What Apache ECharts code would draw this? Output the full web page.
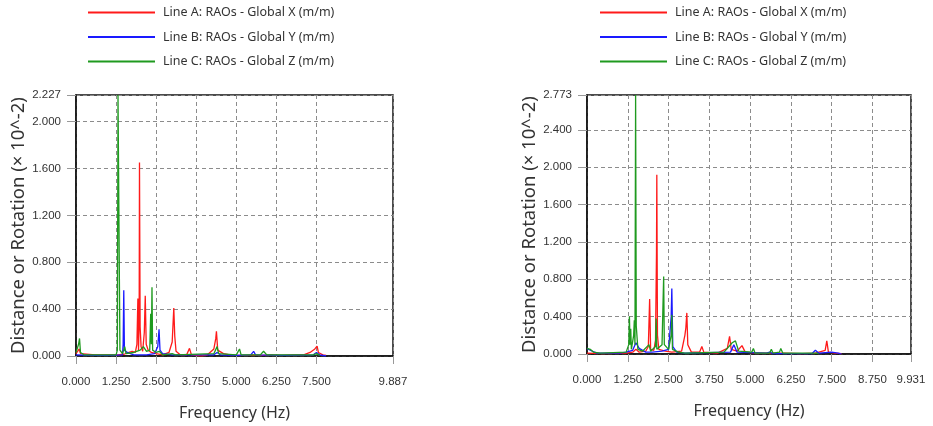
<!DOCTYPE html>
<html>
<head>
<meta charset="utf-8">
<script src="https://cdn.jsdelivr.net/npm/echarts@6/dist/echarts.min.js"></script>
<style>
html,body{margin:0;padding:0;background:#fff;}
#chart{width:933px;height:426px;}
</style>
</head>
<body>
<div id="chart"></div>
<script>
// ---- data ----
const seriesNames = ['Line A: RAOs - Global X (m/m)', 'Line B: RAOs - Global Y (m/m)', 'Line C: RAOs - Global Z (m/m)'];
const leftXTicks = [0, 1.25, 2.5, 3.75, 5, 6.25, 7.5, 9.887];
const rightXTicks = [0, 1.25, 2.5, 3.75, 5, 6.25, 7.5, 8.75, 9.931];
const leftYMax = 2.227;
const rightYMax = 2.773;
const leftXMax = 9.887;
const rightXMax = 9.931;

const leftA = [[0,0.02],[0.05,0.04],[0.1,0.06],[0.14,0.02],[0.2,0.01],[0.6,0.01],[1.0,0.01],[1.3,0.01],[1.5,0.015],[1.65,0.03],[1.75,0.04],[1.85,0.03],[1.9,0.1],[1.93,0.49],[1.95,0.05],[1.97,0.3],[1.98,1.65],[2.0,0.25],[2.03,0.08],[2.08,0.04],[2.13,0.2],[2.16,0.515],[2.19,0.1],[2.25,0.05],[2.35,0.03],[2.5,0.02],[2.7,0.01],[2.9,0.03],[3.0,0.12],[3.05,0.41],[3.08,0.17],[3.12,0.04],[3.25,0.01],[3.45,0.01],[3.54,0.065],[3.6,0.01],[3.9,0.0],[4.1,0.01],[4.3,0.06],[4.36,0.15],[4.38,0.21],[4.42,0.05],[4.6,0.02],[4.8,0.01],[5.0,0.005],[5.3,0.005],[5.5,0.01],[5.8,0.005],[6.1,0.01],[6.4,0.005],[6.8,0.01],[7.1,0.01],[7.3,0.03],[7.45,0.06],[7.52,0.085],[7.56,0.03],[7.7,0.01],[7.8,0.005]];
const leftB = [[0,0.01],[0.5,0.005],[1.0,0.005],[1.45,0.01],[1.47,0.1],[1.49,0.56],[1.51,0.05],[1.6,0.03],[1.8,0.01],[2.2,0.01],[2.45,0.02],[2.55,0.08],[2.59,0.228],[2.62,0.05],[2.7,0.02],[3.0,0.01],[4.3,0.01],[4.4,0.03],[4.5,0.01],[5.0,0.005],[5.45,0.01],[5.54,0.04],[5.6,0.01],[6.5,0.005],[7.4,0.01],[7.5,0.03],[7.6,0.01],[7.8,0.0]];
const leftC = [[0,0.03],[0.08,0.1],[0.11,0.15],[0.14,0.03],[0.25,0.01],[1.25,0.01],[1.29,0.05],[1.31,2.227],[1.35,2.227],[1.37,0.05],[1.45,0.02],[1.52,0.08],[1.56,0.02],[1.8,0.03],[2.0,0.05],[2.1,0.08],[2.2,0.04],[2.3,0.05],[2.33,0.36],[2.35,0.1],[2.37,0.586],[2.39,0.05],[2.5,0.03],[2.6,0.04],[2.7,0.01],[3.0,0.02],[3.1,0.01],[4.3,0.02],[4.4,0.08],[4.45,0.02],[5.0,0.01],[5.1,0.06],[5.15,0.01],[5.75,0.01],[5.85,0.04],[5.95,0.01],[7.4,0.01],[7.5,0.02],[7.6,0.005]];

const rightA = [[0,0.01],[0.5,0.005],[1.2,0.01],[1.4,0.02],[1.5,0.05],[1.6,0.02],[1.8,0.03],[1.88,0.08],[1.92,0.59],[1.95,0.05],[2.05,0.04],[2.1,0.15],[2.13,1.08],[2.14,1.92],[2.16,0.2],[2.2,0.05],[2.4,0.03],[2.6,0.02],[2.9,0.03],[3.0,0.2],[3.03,0.28],[3.06,0.44],[3.09,0.1],[3.2,0.02],[3.45,0.02],[3.52,0.08],[3.58,0.02],[4.0,0.01],[4.3,0.06],[4.37,0.19],[4.42,0.05],[4.6,0.03],[4.75,0.09],[4.85,0.02],[5.2,0.01],[6.0,0.01],[6.6,0.005],[7.0,0.01],[7.3,0.04],[7.35,0.14],[7.4,0.02],[7.6,0.01],[7.8,0.005]];
const rightB = [[0,0.06],[0.1,0.04],[0.3,0.01],[1.0,0.01],[1.2,0.02],[1.4,0.04],[1.5,0.12],[1.6,0.06],[1.8,0.02],[2.0,0.02],[2.3,0.03],[2.5,0.05],[2.58,0.4],[2.6,0.70],[2.63,0.08],[2.75,0.02],[3.0,0.01],[4.4,0.02],[4.5,0.1],[4.6,0.02],[5.5,0.01],[5.6,0.02],[5.7,0.005],[6.9,0.005],[7.0,0.04],[7.1,0.01],[7.5,0.02],[7.7,0.01],[7.8,0.0]];
const rightC = [[0,0.06],[0.1,0.05],[0.2,0.02],[0.4,0.01],[1.2,0.02],[1.28,0.1],[1.3,0.40],[1.32,0.1],[1.34,0.27],[1.36,0.05],[1.43,0.2],[1.45,0.36],[1.47,0.1],[1.49,2.773],[1.51,0.3],[1.53,0.30],[1.56,0.05],[1.7,0.03],[1.9,0.1],[1.95,0.03],[2.1,0.08],[2.12,0.38],[2.14,0.05],[2.3,0.1],[2.35,0.83],[2.37,0.1],[2.5,0.05],[2.58,0.2],[2.6,0.42],[2.62,0.05],[2.8,0.02],[3.0,0.01],[4.2,0.02],[4.45,0.12],[4.55,0.14],[4.65,0.03],[5.05,0.02],[5.1,0.06],[5.15,0.01],[5.6,0.01],[5.65,0.05],[5.7,0.01],[5.9,0.02],[5.94,0.06],[6.0,0.01],[7.0,0.01],[7.1,0.005]];

const colors = ['#ff1a1a', '#1a1aff', '#1f9a1f'];
// ---- chart ----
const FONT = 'Noto Sans';
const chart = echarts.init(document.getElementById('chart'));

function xAxisCfg(gridIndex, max, ticks) {
  return {
    type: 'value', gridIndex: gridIndex, min: 0, max: max, interval: 1.25,
    name: 'Frequency (Hz)', nameLocation: 'middle', nameGap: 49,
    nameTextStyle: {fontFamily: FONT, fontSize: 16, color: '#333'},
    axisLine: {show: true, onZero: false, lineStyle: {color: '#111', width: 1.5}},
    axisTick: {show: true, length: 8, customValues: ticks, lineStyle: {color: '#999'}},
    axisLabel: {customValues: ticks, margin: 20, fontFamily: 'Liberation Sans', fontSize: 11.5, color: '#333',
      formatter: v => v.toFixed(3), showMinLabel: true, showMaxLabel: true},
    splitLine: {show: true, lineStyle: {color: '#8c8c8c', type: [4, 3], width: 1}}
  };
}
function yAxisCfg(gridIndex, max) {
  return {
    type: 'value', gridIndex: gridIndex, min: 0, max: max, interval: 0.4,
    name: 'Distance or Rotation (\u00d7 10^-2)', nameLocation: 'middle', nameGap: 48,
    nameTextStyle: {fontFamily: FONT, fontSize: 18.5, color: '#333'},
    axisLine: {show: true, lineStyle: {color: '#111', width: 1.5}},
    axisTick: {show: true, length: 9, lineStyle: {color: '#999'}},
    axisLabel: {margin: 15, fontFamily: 'Liberation Sans', fontSize: 11.5, color: '#333',
      formatter: v => v.toFixed(3), showMinLabel: true, showMaxLabel: true},
    splitLine: {show: true, lineStyle: {color: '#8c8c8c', type: [4, 3], width: 1}}
  };
}
function legendCfg(left) {
  return {
    orient: 'vertical', left: left, top: 1, itemWidth: 67, itemHeight: 2, itemGap: 11.5,
    icon: 'rect', data: seriesNames,
    textStyle: {fontFamily: FONT, fontSize: 12.5, color: '#333', padding: [0, 0, 0, 3]}
  };
}
function lineSeries(i, xi, data) {
  return {
    name: seriesNames[i], type: 'line', xAxisIndex: xi, yAxisIndex: xi, data: data,
    showSymbol: false, symbol: 'none', animation: false, clip: true,
    lineStyle: {color: colors[i], width: 1.3}, itemStyle: {color: colors[i]}
  };
}
chart.setOption({
  animation: false,
  backgroundColor: '#fff',
  legend: [legendCfg(83), legendCfg(595)],
  grid: [
    {left: 76, top: 95, width: 317, height: 261, show: true, borderColor: '#111', borderWidth: 1.5},
    {left: 587, top: 95, width: 324, height: 259, show: true, borderColor: '#111', borderWidth: 1.5}
  ],
  xAxis: [xAxisCfg(0, leftXMax, leftXTicks), xAxisCfg(1, rightXMax, rightXTicks)],
  yAxis: [yAxisCfg(0, leftYMax), yAxisCfg(1, rightYMax)],
  series: [
    lineSeries(0, 0, leftA), lineSeries(1, 0, leftB), lineSeries(2, 0, leftC),
    lineSeries(0, 1, rightA), lineSeries(1, 1, rightB), lineSeries(2, 1, rightC)
  ]
});
</script>
</body>
</html>
